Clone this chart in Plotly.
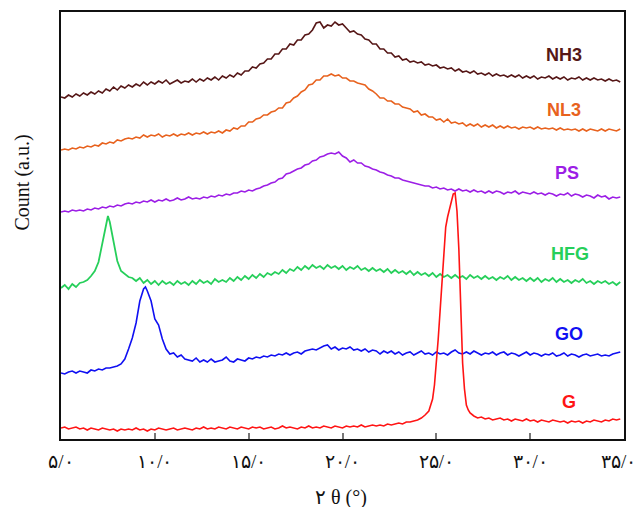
import plotly.graph_objects as go

# ---------------- data (intensity in arbitrary units, sampled every 0.2 deg from 5.0) -------------
X_START = 5.0
STEP = 0.2

NH3 = [342,341,344,342,345,343,346,344,347,345,
       348,346,350,348,352,349,353,351,354,352,
       355,353,357,354,357,355,358,356,359,355,
       357,359,356,358,357,360,357,360,358,361,
       359,362,359,363,361,364,362,366,364,368,
       368,372,371,375,376,380,380,385,385,390,
       390,395,394,399,399,404,405,409,416,417,
       411,414,413,417,414,415,411,407,408,405,
       404,400,399,395,395,390,390,386,386,382,
       383,379,380,377,378,376,377,374,375,373,
       374,371,372,370,371,368,370,367,368,366,
       368,365,366,364,366,363,365,363,364,362,
       364,362,364,361,363,361,363,360,362,361,
       363,360,362,360,362,359,361,360,362,359,
       361,359,361,359,360,358,360,358,359,357]

NL3 = [289,290,289,291,290,292,291,293,292,294,
       293,296,295,297,296,299,298,300,301,300,
       302,301,304,302,304,303,305,302,304,303,
       305,303,305,304,306,304,306,305,307,305,
       307,306,308,306,309,308,311,310,313,313,
       317,317,320,321,324,324,327,328,331,331,
       336,337,341,343,347,349,354,355,359,359,
       363,363,365,363,364,361,361,358,358,356,
       355,354,350,348,345,341,341,338,338,335,
       335,332,331,330,327,328,324,325,322,322,
       319,320,317,320,316,317,315,316,313,315,
       313,315,312,314,312,314,311,313,311,313,
       311,312,310,312,311,312,310,312,310,311,
       310,311,309,311,309,310,309,310,308,310,
       308,310,309,308,310,308,310,309,308,310]

PS = [227,228,227,229,228,229,228,230,229,231,
      230,232,231,233,232,234,233,235,236,235,
      237,236,238,237,239,237,239,238,240,238,
      239,241,239,240,242,240,241,240,242,241,
      243,242,244,243,245,244,246,246,248,247,
      249,248,250,251,253,254,256,257,260,261,
      265,266,268,270,271,274,275,278,279,282,
      283,285,286,285,287,283,281,277,279,276,
      276,273,272,270,269,267,266,264,263,261,
      261,259,258,257,256,255,254,253,253,251,
      252,250,251,249,250,248,250,248,249,247,
      249,247,248,246,248,246,248,247,245,247,
      246,248,245,247,246,245,247,245,246,244,
      246,245,243,245,244,246,243,245,244,242,
      244,243,241,244,242,243,240,242,241,242]

HFG = [151,154,150,155,152,156,157,159,163,168,
       177,195,215,217,198,178,168,165,162,161,
       158,161,156,159,155,158,154,158,155,157,
       154,158,155,157,154,158,155,159,156,158,
       155,160,157,159,157,161,158,162,159,163,
       160,164,161,165,162,166,164,167,165,169,
       166,170,168,172,169,173,170,174,171,173,
       170,174,171,173,170,173,169,172,170,173,
       169,171,168,171,168,170,167,170,166,169,
       166,168,165,168,164,167,164,166,163,166,
       162,165,162,164,161,164,161,163,160,164,
       161,163,160,163,160,162,159,162,160,163,
       159,162,159,161,158,161,158,161,157,160,
       158,161,157,160,157,159,156,159,157,160,
       156,158,155,158,156,158,155,157,154,157]
HFG_PEAK_X = [7.5]
HFG_PEAK_Y = [223]

GO = [66,65,67,68,66,68,67,66,69,68,
      70,69,71,71,72,73,75,80,90,101,
      116,138,150,148,138,120,114,100,90,85,
      86,82,84,80,79,78,81,77,79,77,
      80,77,78,79,82,78,77,80,79,78,
      81,80,82,81,83,82,84,83,85,84,
      86,84,86,87,85,88,89,90,89,91,
      93,94,90,92,89,91,90,92,89,90,
      88,90,87,89,88,85,88,86,88,85,
      87,84,86,87,84,86,88,85,86,84,
      87,85,86,84,87,89,86,85,87,85,
      88,86,84,86,85,87,84,86,87,84,
      86,85,83,85,87,84,86,85,83,85,
      84,86,83,84,86,83,85,84,82,84,
      85,83,84,85,83,84,83,85,86,87]
GO_PEAK_X = [9.5]
GO_PEAK_Y = [152]

G = [11,12,10,11,12,10,11,9,11,10,
     9,11,10,9,10,8,10,9,10,9,
     11,9,10,8,10,9,11,10,9,10,
     11,9,10,11,10,9,11,10,12,10,
     11,10,12,11,10,12,11,10,12,11,
     10,12,11,12,10,11,12,10,11,13,
     11,12,11,10,12,11,13,11,12,11,
     13,12,11,13,12,11,13,12,13,12,
     14,12,13,14,13,14,13,15,14,15,
     16,15,17,17,18,19,21,24,28,40,
     75,128,186,222,236,246,190,76,34,26,
     23,21,22,20,21,19,20,21,19,20,
     18,20,19,18,20,18,19,17,19,18,
     17,19,18,17,18,16,18,17,18,16,
     18,17,19,18,17,19,18,20,19,20]
G_PEAK_X = [24.9, 25.1, 25.3, 25.5, 25.7, 25.9, 26.1, 26.3, 26.5, 26.7]
G_PEAK_Y = [54, 100, 155, 212, 229, 245, 228, 142, 50, 29]

NAMES = ["NH3", "NL3", "PS", "HFG", "GO", "G"]
COLORS = ["#561717", "#e8621e", "#9c1ee6", "#26cf5a", "#1010f2", "#ff1414"]

TICK_VALS = [5, 10, 15, 20, 25, 30, 35]
TICK_TEXT = ["۵/۰", "۱۰/۰", "۱۵/۰", "۲۰/۰", "۲۵/۰", "۳۰/۰", "۳۵/۰"]


def build(vals, ex=(), ey=()):
    pts = [(round(X_START + STEP * i, 2), v) for i, v in enumerate(vals)]
    pts += list(zip(ex, ey))
    pts.sort()
    return [p[0] for p in pts], [p[1] for p in pts]


series = {
    "NH3": build(NH3),
    "NL3": build(NL3),
    "PS": build(PS),
    "HFG": build(HFG, HFG_PEAK_X, HFG_PEAK_Y),
    "GO": build(GO, GO_PEAK_X, GO_PEAK_Y),
    "G": build(G, G_PEAK_X, G_PEAK_Y),
}

fig = go.Figure()
for name, col in zip(NAMES, COLORS):
    xs, ys = series[name]
    fig.add_trace(go.Scatter(x=xs, y=ys, mode="lines", name=name,
                             line=dict(color=col, width=1.8 if name == "HFG" else 1.6),
                             showlegend=False))

# series labels
label_pos = {"NH3": (31.8, 384), "NL3": (31.8, 329), "PS": (31.95, 266),
             "HFG": (32.1, 185), "GO": (32.05, 105), "G": (32.05, 37)}
for name, col in zip(NAMES, COLORS):
    lx, ly = label_pos[name]
    fig.add_annotation(x=lx, y=ly, xref="x", yref="y", text=name, showarrow=False,
                       font=dict(family="Liberation Sans, Arial, sans-serif", size=18,
                                 color=col, weight="bold"))

TICK_FONT = dict(family="Liberation Serif, Times New Roman, serif", size=19, color="#111")

# the last tick label is drawn right-aligned so that it stays inside the window, as in the reference
tick_text = TICK_TEXT[:-1] + [""]
fig.add_annotation(x=TICK_VALS[-1], y=-0.052, xref="x", yref="paper", text=TICK_TEXT[-1],
                   showarrow=False, xanchor="right", yanchor="middle", xshift=14,
                   font=TICK_FONT)

# axis titles
fig.add_annotation(x=0.497, y=-0.136, xref="paper", yref="paper", text="۲ θ (°)",
                   showarrow=False, yanchor="middle",
                   font=dict(family="Liberation Serif, Times New Roman, serif", size=20, color="#111"))
fig.add_annotation(x=-0.068, y=0.6, xref="paper", yref="paper", text="Count (a.u.)",
                   showarrow=False, textangle=-90, xanchor="center", yanchor="middle",
                   font=dict(family="Liberation Serif, Times New Roman, serif", size=20, color="#111"))

fig.update_layout(
    width=639, height=507,
    margin=dict(l=61, r=15, t=12, b=68, autoexpand=False),
    paper_bgcolor="white", plot_bgcolor="white",
    xaxis=dict(range=[5, 35], tickvals=TICK_VALS, ticktext=tick_text,
               ticks="inside", ticklen=6, tickwidth=1.5, tickcolor="#777",
               ticklabelstandoff=4, ticklabeloverflow="allow", automargin=False,
               showgrid=False, zeroline=False, showline=True, linecolor="#111",
               linewidth=2.2, mirror=True, tickfont=TICK_FONT),
    yaxis=dict(range=[0, 427], showticklabels=False, ticks="", showgrid=False, automargin=False,
               zeroline=False, showline=True, linecolor="#111", linewidth=2.2, mirror=True),
)

# remove the default page margin so the figure sits at the window's top-left corner
fig.write_html("out.html", config={"displayModeBar": False},
               post_script="document.body.style.margin='0';document.body.style.overflow='hidden';")
